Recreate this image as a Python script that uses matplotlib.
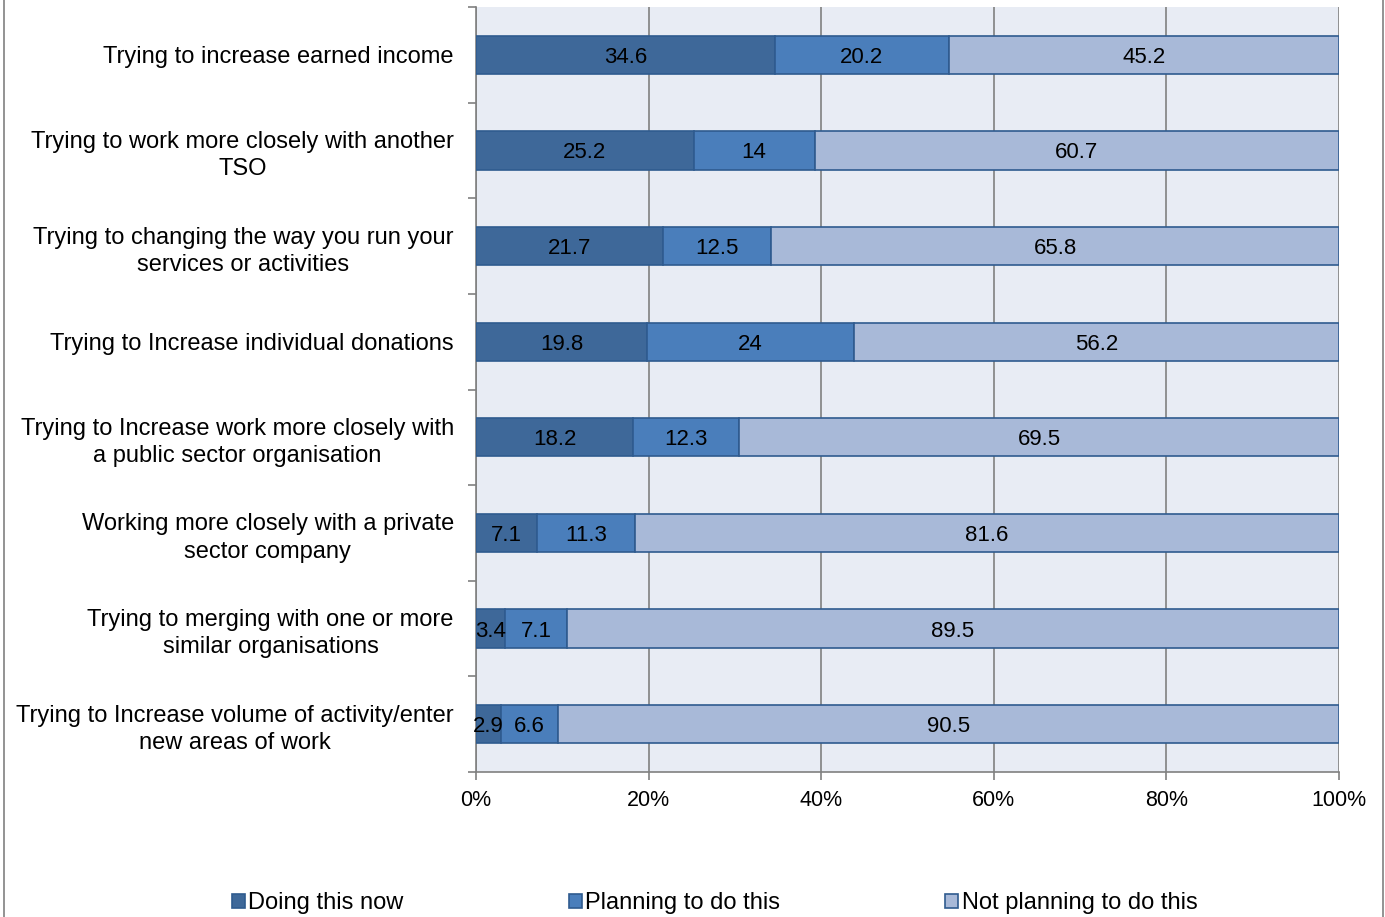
import numpy as np
import matplotlib.pyplot as plt
from matplotlib.lines import Line2D

plt.rcParams["font.family"] = ["Liberation Sans", "DejaVu Sans"]

# =========================
# DATA
# =========================

categories = [
    "Trying to increase earned income",
    "Trying to work more closely with another\nTSO",
    "Trying to changing the way you run your\nservices or activities",
    "Trying to Increase individual donations",
    "Trying to Increase work more closely with\na public sector organisation",
    "Working more closely with a private\nsector company",
    "Trying to merging with one or more\nsimilar organisations",
    "Trying to Increase volume of activity/enter\nnew areas of work",
]
doing_now = [34.6, 25.2, 21.7, 19.8, 18.2, 7.1, 3.4, 2.9]
planning = [20.2, 14, 12.5, 24, 12.3, 11.3, 7.1, 6.6]
not_planning = [45.2, 60.7, 65.8, 56.2, 69.5, 81.6, 89.5, 90.5]

series_names = ["Doing this now", "Planning to do this", "Not planning to do this"]
colors = ["#3E6899", "#4A7EBB", "#A8B9D8"]
edge = "#2F5B8F"

# =========================
# PLOT (100% stacked)
# =========================

data = np.array([doing_now, planning, not_planning], dtype=float)
shares = data / data.sum(axis=0) * 100

fig = plt.figure(figsize=(13.85, 9.17), dpi=100)
ax = fig.add_axes([476 / 1385, 1 - 772 / 917, 863 / 1385, 765 / 917])
ax.set_facecolor("#E8ECF4")

y = np.arange(len(categories))
left = np.zeros(len(categories))
for vals, pct, name, col in zip(data, shares, series_names, colors):
    ax.barh(y, pct, left=left, height=0.4, color=col, edgecolor=edge,
            linewidth=1.2, label=name, zorder=3)
    for yi, l, p, v in zip(y, left, pct, vals):
        ax.text(l + p / 2, yi, f"{v:g}", ha="center", va="center_baseline",
                fontsize=16, color="black", zorder=4)
    left += pct

ax.set_xlim(0, 100)
ax.set_ylim(len(categories) - 0.5, -0.5)
ax.set_xticks(np.arange(0, 101, 20))
ax.set_xticklabels([f"{t}%" for t in range(0, 101, 20)], fontsize=15.5)
ax.xaxis.grid(True, color="#808080", linewidth=1.2, zorder=1)
ax.set_axisbelow(True)

ax.set_yticks(y)
ax.set_yticklabels(categories, fontsize=17, linespacing=1.3,
                   multialignment="center")
ax.set_yticks(np.arange(-0.5, len(categories), 1), minor=True)
ax.tick_params(axis="y", which="major", length=0, pad=16)
ax.tick_params(axis="y", which="minor", length=6, color="#808080", width=1.2)
ax.tick_params(axis="x", length=6, color="#808080", width=1.2, pad=7)

for s in ["top", "right"]:
    ax.spines[s].set_visible(False)
for s in ["left", "bottom"]:
    ax.spines[s].set_color("#808080")
    ax.spines[s].set_linewidth(1.2)

# outer frame lines at the picture's sides
fig.add_artist(Line2D([3.5 / 1385, 3.5 / 1385], [0, 1], color="#808080", linewidth=1.2))
fig.add_artist(Line2D([1382.5 / 1385, 1382.5 / 1385], [0, 1], color="#808080", linewidth=1.2))

fig.legend(loc="center", bbox_to_anchor=(0.516, 1 - 903 / 917), ncol=3, frameon=False,
           fontsize=17, handlelength=0.55, handleheight=0.55, handletextpad=0.15,
           columnspacing=7.0)

fig.savefig("out.png", dpi=100)
